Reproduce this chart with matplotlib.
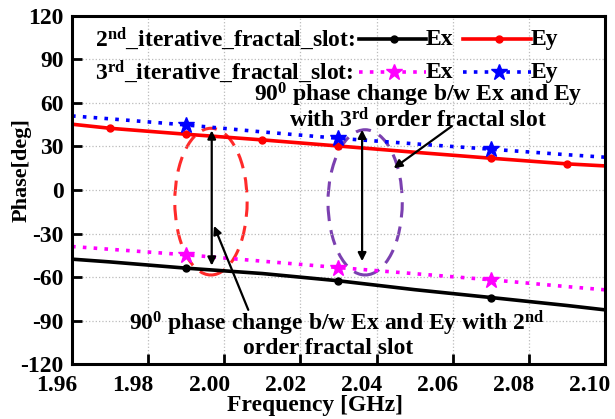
import numpy as np
import matplotlib
matplotlib.use("Agg")
import matplotlib.pyplot as plt
from matplotlib.patches import Ellipse
from matplotlib.lines import Line2D
import matplotlib.transforms as mtransforms

plt.rcParams['font.family'] = ['Liberation Serif', 'DejaVu Serif']
plt.rcParams['font.weight'] = 'bold'
plt.rcParams['axes.labelweight'] = 'bold'
plt.rcParams['mathtext.fontset'] = 'custom'
plt.rcParams['mathtext.rm'] = 'Liberation Serif:bold'
plt.rcParams['mathtext.bf'] = 'Liberation Serif:bold'
plt.rcParams['mathtext.it'] = 'Liberation Serif:bold'

# data
freq = [1.96, 1.97, 1.99, 2.01, 2.03, 2.05, 2.07, 2.09, 2.10]
ex_2nd = [-47.6, -49.5, -53.8, -57.5, -62.5, -68.6, -74.0, -79.5, -82.5]
ey_2nd = [45.3, 42.5, 38.4, 34.5, 30.3, 26.0, 21.9, 18.0, 16.6]
ex_3rd = [-38.9, -40.8, -44.6, -49.0, -53.4, -57.6, -61.8, -66.5, -68.7]
ey_3rd = [51.0, 49.0, 44.8, 40.0, 35.6, 31.8, 28.1, 24.3, 22.6]
mk_2nd_ex = [2, 4, 6]
mk_2nd_ey = [1, 2, 3, 4, 6, 7]
mk_3rd = [2, 4, 6]

xticks = [1.96, 1.98, 2.00, 2.02, 2.04, 2.06, 2.08, 2.10]
yticks = [-120, -90, -60, -30, 0, 30, 60, 90, 120]

fig = plt.figure(figsize=(6.15, 4.19), dpi=100)
ax = fig.add_axes([0.1171, 0.1305, 0.8666, 0.832])

dot = (0, (1, 2))
ax.plot(freq, ex_2nd, color='black', lw=2.6, marker='o', ms=5, markevery=mk_2nd_ex)
ax.plot(freq, ey_2nd, color='red', lw=2.6, marker='o', ms=5, markevery=mk_2nd_ey)
ax.plot(freq, ex_3rd, color='magenta', lw=2.6, ls=dot, marker='*', ms=12, markevery=mk_3rd)
ax.plot(freq, ey_3rd, color='blue', lw=2.6, ls=dot, marker='*', ms=12, markevery=mk_3rd)

ax.add_patch(Ellipse((1.9965, -8), 0.0190, 101, fill=False, ec='#ff2a2a', lw=2.2, ls=(0, (5, 3))))
ax.add_patch(Ellipse((2.037, -8.5), 0.0195, 100, fill=False, ec='#7b40b0', lw=2.2, ls=(0, (5, 3))))

arr = dict(arrowstyle='<|-|>', color='black', lw=1.6, mutation_scale=12, shrinkA=0, shrinkB=0)
ax.annotate('', xy=(1.9967, 41), xytext=(1.9967, -52), arrowprops=arr)
ax.annotate('', xy=(2.0362, 41.5), xytext=(2.0362, -49), arrowprops=arr)
one = dict(arrowstyle='-|>', color='black', lw=1.6, mutation_scale=12, shrinkA=0, shrinkB=0)
ax.annotate('', xy=(2.0445, 15), xytext=(2.0598, 44), arrowprops=one)
ax.annotate('', xy=(1.9973, -24.7), xytext=(2.0063, -82.5), arrowprops=one)

fs_ann = 17
ax.text(2.0509, 57.4, '90$^{0}$ phase change b/w Ex and Ey\nwith 3$^{rd}$ order fractal slot',
        ha='center', va='center', multialignment='center', fontsize=fs_ann, linespacing=0.95)
ax.text(2.0295, -99.0, '90$^{0}$ phase change b/w Ex and Ey with 2$^{nd}$\norder fractal slot   ',
        ha='center', va='center', multialignment='center', fontsize=fs_ann, linespacing=0.95)

# hand-built legend in axes fraction
def fx(px):
    return (px - 72.3) / 532.7

def fy(py):
    return (364.3 - py) / 348.6

fs_leg = 17
rows = [(39, r'2$^{nd}$_iterative_fractal_slot:', 'black', 'red', '-', 'o', 5),
        (72, r'3$^{rd}$_iterative_fractal_slot:', 'magenta', 'blue', dot, '*', 12)]
for py, label, c1, c2, ls, mk, ms in rows:
    ax.text(fx(95), fy(py), label, transform=ax.transAxes, ha='left', va='center', fontsize=fs_leg)
    for x0, x1, xm, c, name in [(359, 426, 394, c1, 'Ex'), (463, 531, 499, c2, 'Ey')]:
        ax.add_line(Line2D([fx(x0), fx(x1)], [fy(py), fy(py)], transform=ax.transAxes,
                           color=c, lw=2.6, ls=ls, clip_on=False))
        ax.add_line(Line2D([fx(xm)], [fy(py)], transform=ax.transAxes, color=c,
                           marker=mk, ms=ms, ls='none', clip_on=False))
        ax.text(fx(x1), fy(py), name, transform=ax.transAxes, ha='left', va='center', fontsize=fs_leg)

ax.set_xlim(1.96, 2.10)
ax.set_ylim(-120, 120)
ax.set_xticks(xticks)
ax.set_yticks(yticks)
ax.set_xticklabels(['%.2f' % v for v in xticks])
ax.set_yticklabels([str(v) for v in yticks])
ax.tick_params(direction='in', length=7, width=2, labelsize=17, pad=6)
ax.tick_params(axis='x', pad=8)
ax.grid(True, ls=':', color='#bbbbbb', lw=0.9)
for s in ax.spines.values():
    s.set_linewidth(2.2)

shift = mtransforms.ScaledTranslation(-0.15, 0, fig.dpi_scale_trans)
for lab in ax.get_xticklabels():
    lab.set_transform(lab.get_transform() + shift)

ax.set_xlabel('Frequency [GHz]', fontsize=17, fontweight='bold')
ax.xaxis.label.set_va('center')
ax.xaxis.set_label_coords(0.4556, -0.117)
ax.set_ylabel('Phase[deg]', fontsize=16, fontweight='bold')
ax.yaxis.label.set_va('center')
ax.yaxis.set_label_coords(-0.0944, 0.557)

fig.savefig('out.png', dpi=100)
